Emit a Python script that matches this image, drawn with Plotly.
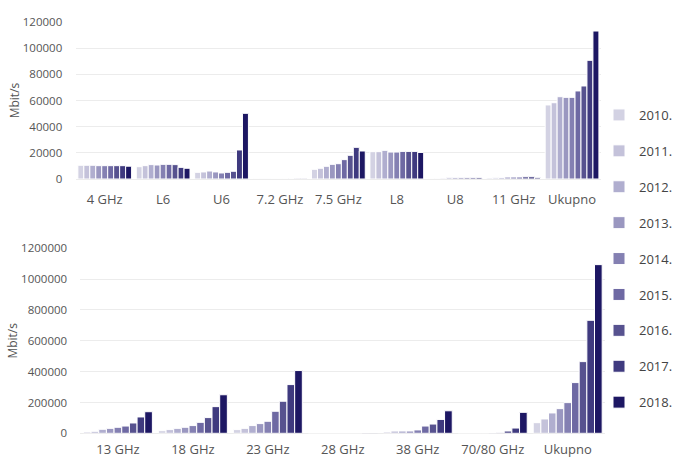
import plotly.graph_objects as go

years = ["2010.", "2011.", "2012.", "2013.", "2014.", "2015.", "2016.", "2017.", "2018."]
colors = ["#d3d2e3", "#c4c2da", "#b0aecf", "#9a97c0", "#8480b2",
          "#6e69a3", "#57528f", "#3f3a7f", "#1d1763"]

# Upper panel: bands up to 11 GHz
bands_top = ["4 GHz", "L6", "U6", "7.2 GHz", "7.5 GHz", "L8", "U8", "11 GHz", "Ukupno"]
values_top = {
    "2010.": [10500, 9400, 5100, 300, 7400, 20900, 200, 800, 56600],
    "2011.": [10500, 10200, 5400, 300, 8200, 20900, 300, 900, 58300],
    "2012.": [10500, 11000, 6100, 300, 9700, 21900, 600, 1200, 62900],
    "2013.": [10200, 10700, 5400, 400, 11200, 20600, 900, 1500, 62400],
    "2014.": [10200, 11200, 4600, 400, 11700, 20600, 1000, 1500, 62400],
    "2015.": [10200, 11200, 5100, 400, 14800, 21100, 1000, 1500, 67300],
    "2016.": [10200, 11000, 5900, 400, 18100, 21100, 1000, 1700, 71100],
    "2017.": [10200, 8900, 22200, 500, 24200, 21100, 1000, 1700, 90700],
    "2018.": [9800, 8200, 50200, 500, 21400, 20300, 1000, 900, 113100],
}

# Lower panel: bands from 13 GHz
bands_bottom = ["13 GHz", "18 GHz", "23 GHz", "28 GHz", "38 GHz", "70/80 GHz", "Ukupno"]
values_bottom = {
    "2010.": [9000, 17000, 24000, 0, 9000, 0, 69000],
    "2011.": [13000, 24000, 32000, 0, 15000, 0, 93000],
    "2012.": [26000, 32000, 50000, 0, 15000, 0, 132000],
    "2013.": [32000, 39000, 63000, 0, 15000, 0, 160000],
    "2014.": [39000, 50000, 78000, 0, 22000, 1500, 199000],
    "2015.": [47000, 71000, 143000, 0, 47000, 6000, 329000],
    "2016.": [67000, 102000, 208000, 0, 60000, 15000, 465000],
    "2017.": [106000, 173000, 316000, 2000, 90000, 34000, 733000],
    "2018.": [140000, 250000, 407000, 2500, 146000, 136000, 1094000],
}

W, H = 678, 458
FONT = "Open Sans, Noto Sans, sans-serif"

fig = go.Figure()
for yr, col in zip(years, colors):
    fig.add_trace(go.Bar(
        x=bands_top, y=values_top[yr], name=yr, legendgroup=yr,
        marker=dict(color=col, line=dict(color="white", width=1)),
        xaxis="x", yaxis="y", showlegend=True,
    ))
    fig.add_trace(go.Bar(
        x=bands_bottom, y=values_bottom[yr], name=yr, legendgroup=yr,
        marker=dict(color=col, line=dict(color="white", width=1)),
        xaxis="x2", yaxis="y2", showlegend=False,
    ))

grid = "#ececec"
xcommon = dict(showgrid=False, showline=False, zeroline=False, automargin=False,
               ticks="outside", tickcolor="rgba(0,0,0,0)",
               tickfont=dict(size=13, color="#555555", family=FONT))
ycommon = dict(showgrid=True, gridcolor=grid, gridwidth=1, zeroline=True,
               zerolinecolor=grid, zerolinewidth=1, showline=False, automargin=False,
               tickformat="d", ticks="outside", ticklen=10,
               tickcolor="rgba(0,0,0,0)",
               tickfont=dict(size=11.5, color="#555555", family=FONT),
               title=dict(text="Mbit/s", font=dict(size=12, color="#555555", family=FONT),
                          standoff=0))

fig.update_layout(
    width=W, height=H,
    margin=dict(l=0, r=0, t=0, b=0),
    paper_bgcolor="white", plot_bgcolor="white",
    barmode="group", bargap=0.08, bargroupgap=0,
    font=dict(family=FONT),
    xaxis=dict(domain=[77 / W, 613 / W], anchor="y", ticklen=8, **xcommon),
    yaxis=dict(domain=[1 - 179 / H, 1 - 22 / H], anchor="x", range=[0, 120000],
               dtick=20000, **ycommon),
    xaxis2=dict(domain=[82 / W, 617 / W], anchor="y2", ticklen=4, **xcommon),
    yaxis2=dict(domain=[1 - 433.3 / H, 1 - 248.3 / H], anchor="x2", range=[0, 1200000],
                dtick=200000, **ycommon),
    legend=dict(x=611 / W, xanchor="left", y=1 - 100 / H, yanchor="top",
                font=dict(size=13, color="#444444", family=FONT),
                tracegroupgap=16, itemclick=False, bgcolor="rgba(0,0,0,0)"),
)

fig.write_html("out.html")
